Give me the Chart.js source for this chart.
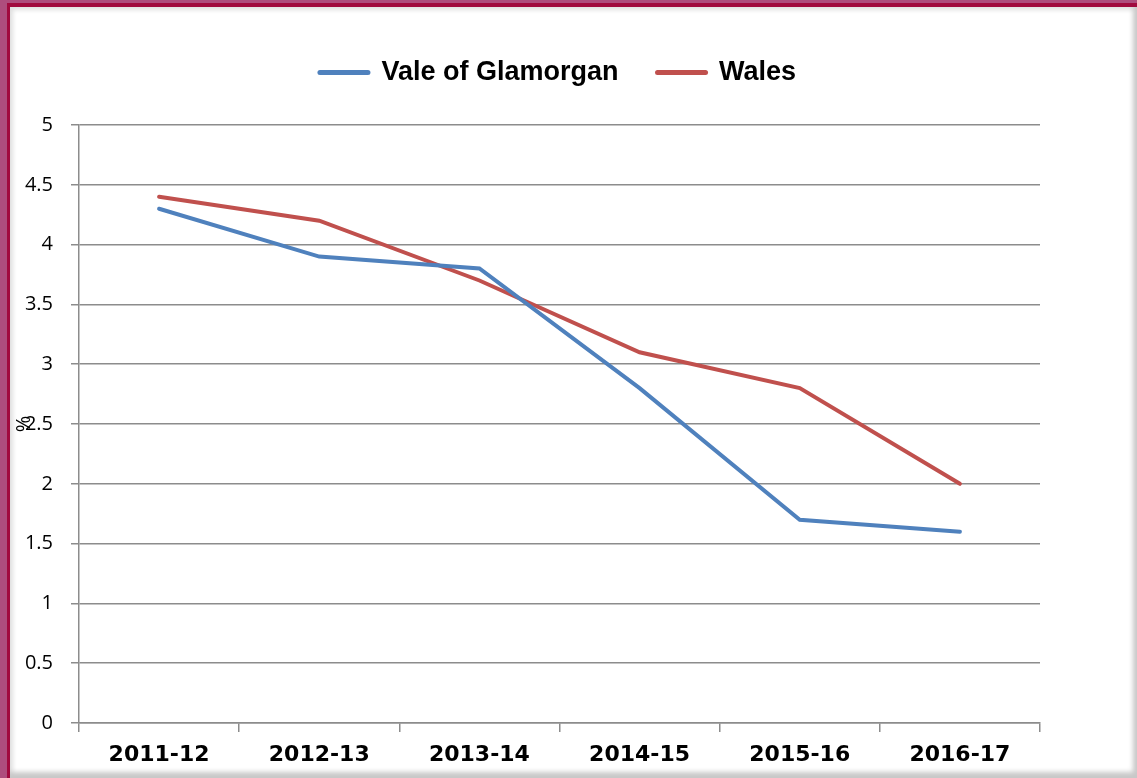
<!DOCTYPE html>
<html>
<head>
<meta charset="utf-8">
<script src="https://cdn.jsdelivr.net/npm/chart.js@4"></script>
<style>
  body { margin: 0; }
  #frame { position: relative; width: 1137px; height: 778px; background: #ae4d7d; overflow: hidden; }
  #inner { position: absolute; left: 7px; top: 3px; right: 0; bottom: 0;
           border-left: 3px solid #a10a3e; border-top: 4px solid #a10a3e;
           background: #fff; box-shadow: inset -4px -6px 5px #c8c8c8, inset 3px 3px 4px #e0e0e0; }
  #chart { position: absolute; left: 0; top: 0; }
</style>
</head>
<body>
<div id="frame">
  <div id="inner"></div>
  <canvas id="chart" width="1137" height="778"></canvas>
</div>
<script>
const years = ['2011-12', '2012-13', '2013-14', '2014-15', '2015-16', '2016-17'];
const valeOfGlamorgan = [4.3, 3.9, 3.8, 2.8, 1.7, 1.6];
const wales = [4.4, 4.2, 3.7, 3.1, 2.8, 2.0];

// leave a gap under the legend and nudge it right to sit like the original
const legendTweak = {
  id: 'legendTweak',
  beforeLayout(chart) {
    const lg = chart.legend;
    if (lg && !lg._patched) {
      const fit = lg.fit;
      lg.fit = function () { fit.call(this); this.height += 29; };
      lg._patched = true;
    }
  },
  afterLayout(chart) {
    const lg = chart.legend;
    if (lg) { lg.left += 32; lg.right += 32; }
  }
};

const ctx = document.getElementById('chart').getContext('2d');

new Chart(ctx, {
  type: 'line',
  data: {
    labels: years,
    datasets: [{
      label: 'Vale of Glamorgan',
      data: valeOfGlamorgan,
      borderColor: '#4f81bd',
      backgroundColor: '#4f81bd',
      borderWidth: 4,
      borderCapStyle: 'round',
      pointRadius: 0,
      tension: 0
    }, {
      label: 'Wales',
      data: wales,
      borderColor: '#c0504d',
      backgroundColor: '#c0504d',
      borderWidth: 4,
      borderCapStyle: 'round',
      pointRadius: 0,
      tension: 0
    }]
  },
  options: {
    responsive: false,
    animation: false,
    layout: { padding: { left: 12, right: 97, top: 20, bottom: 10 } },
    plugins: {
      legend: {
        position: 'top',
        labels: {
          usePointStyle: true,
          pointStyle: 'line',
          pointStyleWidth: 48,
          padding: 39,
          color: '#000',
          generateLabels(chart) {
            return Chart.defaults.plugins.legend.labels.generateLabels(chart)
              .map(l => Object.assign(l, { lineWidth: 5, lineCap: 'round' }));
          },
          font: { family: 'Liberation Sans, Arial, sans-serif', size: 27, weight: 'bold' }
        }
      },
      tooltip: { enabled: false }
    },
    scales: {
      x: {
        offset: true,
        grid: { offset: true, drawOnChartArea: false, drawTicks: true, tickLength: 9, color: '#8c8c8c', lineWidth: 1.5 },
        border: { color: '#8c8c8c', width: 1.5 },
        ticks: { color: '#000', padding: 10, maxRotation: 0,
                 font: { family: 'DejaVu Sans, sans-serif', size: 22, weight: 'bold' } },
        afterFit(scale) { scale.height = 45; }
      },
      y: {
        min: 0,
        max: 5,
        ticks: { stepSize: 0.5, color: '#000', padding: 18,
                 callback: v => String(Math.round(v * 10) / 10),
                 font: { family: 'Open Sans, Liberation Sans, sans-serif', size: 20 } },
        grid: { color: '#8c8c8c', lineWidth: 1.5, tickLength: 8 },
        border: { color: '#8c8c8c', width: 1.5 },
        title: { display: true, text: '%', color: '#000', padding: 0,
                 font: { family: 'Open Sans, Liberation Sans, sans-serif', size: 20 } },
        afterFit(scale) { scale.width = 67; }
      }
    }
  },
  plugins: [legendTweak]
});
</script>
</body>
</html>
